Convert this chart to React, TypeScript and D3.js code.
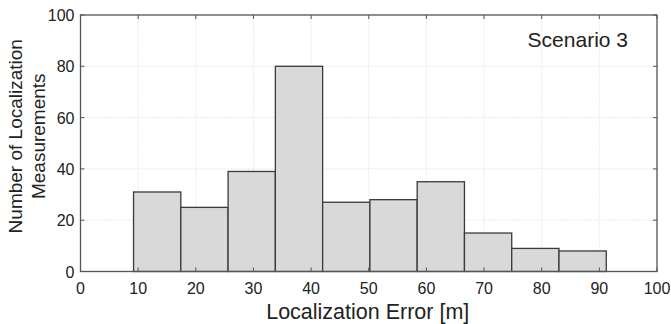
import React, { useEffect, useRef } from 'react'
import * as d3 from 'd3'

// histogram bins (left edge, width) and counts
const binStart = 9.2
const binWidth = 8.2
const counts = [31, 25, 39, 80, 27, 28, 35, 15, 9, 8]
const xTicks = [0, 10, 20, 30, 40, 50, 60, 70, 80, 90, 100]
const yTicks = [0, 20, 40, 60, 80, 100]
const xLabel = 'Localization Error [m]'
const yLabelLines = ['Number of Localization', 'Measurements']
const annotation = 'Scenario 3'

const W = 671, H = 324
const margin = { top: 15, right: 14, bottom: 52.5, left: 80.5 }
const font = 'Arial, "Liberation Sans", Helvetica, sans-serif'

export default function App() {
    const ref = useRef<SVGSVGElement>(null)

    useEffect(() => {
        const svg = d3.select(ref.current)
        svg.selectAll('*').remove()

        const x = d3.scaleLinear().domain([0, 100]).range([margin.left, W - margin.right])
        const y = d3.scaleLinear().domain([0, 100]).range([H - margin.bottom, margin.top])

        const bins = counts.map((c, i) => ({
            x0: binStart + i * binWidth,
            x1: binStart + (i + 1) * binWidth,
            count: c
        }))

        // dotted grid
        const grid = svg.append('g')
            .attr('stroke', '#d6d6d6')
            .attr('stroke-width', 1)
            .attr('stroke-dasharray', '1,2')
        grid.selectAll('line.gx')
            .data(xTicks.slice(1, -1))
            .join('line')
            .attr('x1', d => x(d)).attr('x2', d => x(d))
            .attr('y1', y(0)).attr('y2', y(100))
        grid.selectAll('line.gy')
            .data(yTicks.slice(1, -1))
            .join('line')
            .attr('class', 'gy')
            .attr('y1', d => y(d)).attr('y2', d => y(d))
            .attr('x1', x(0)).attr('x2', x(100))

        // bars
        svg.append('g')
            .selectAll('rect')
            .data(bins)
            .join('rect')
            .attr('x', d => x(d.x0))
            .attr('width', d => x(d.x1) - x(d.x0))
            .attr('y', d => y(d.count))
            .attr('height', d => y(0) - y(d.count))
            .attr('fill', '#d9d9d9')
            .attr('stroke', '#3a3a3a')
            .attr('stroke-width', 1.3)

        // inward ticks on all sides
        const tl = 4
        const ticks = svg.append('g').attr('stroke', '#555').attr('stroke-width', 1)
        xTicks.forEach(t => {
            ticks.append('line').attr('x1', x(t)).attr('x2', x(t)).attr('y1', y(0)).attr('y2', y(0) - tl)
            ticks.append('line').attr('x1', x(t)).attr('x2', x(t)).attr('y1', y(100)).attr('y2', y(100) + tl)
        })
        yTicks.forEach(t => {
            ticks.append('line').attr('y1', y(t)).attr('y2', y(t)).attr('x1', x(0)).attr('x2', x(0) + tl)
            ticks.append('line').attr('y1', y(t)).attr('y2', y(t)).attr('x1', x(100)).attr('x2', x(100) - tl)
        })

        // frame
        svg.append('rect')
            .attr('x', x(0)).attr('y', y(100))
            .attr('width', x(100) - x(0)).attr('height', y(0) - y(100))
            .attr('fill', 'none')
            .attr('stroke', '#555')
            .attr('stroke-width', 1.3)

        // tick labels
        svg.append('g')
            .attr('font-family', font)
            .attr('font-size', 16)
            .attr('fill', '#222')
            .attr('text-anchor', 'middle')
            .selectAll('text')
            .data(xTicks)
            .join('text')
            .attr('x', d => x(d))
            .attr('y', y(0) + 22)
            .text(d => d)

        svg.append('g')
            .attr('font-family', font)
            .attr('font-size', 16)
            .attr('fill', '#222')
            .attr('text-anchor', 'end')
            .selectAll('text')
            .data(yTicks)
            .join('text')
            .attr('x', x(0) - 6)
            .attr('y', d => y(d) + 6)
            .text(d => d)

        // axis labels
        svg.append('text')
            .attr('x', (x(0) + x(100)) / 2 - 1)
            .attr('y', H - 5)
            .attr('text-anchor', 'middle')
            .attr('font-family', font)
            .attr('font-size', 21.5)
            .attr('fill', '#222')
            .text(xLabel)

        const yl = svg.append('text')
            .attr('transform', `translate(0,${(y(0) + y(100)) / 2 - 7}) rotate(-90)`)
            .attr('text-anchor', 'middle')
            .attr('font-family', font)
            .attr('font-size', 19)
            .attr('fill', '#222')
        yLabelLines.forEach((l, i) => {
            yl.append('tspan').attr('x', 0).attr('y', 22 + i * 23).text(l)
        })

        svg.append('text')
            .attr('x', x(100) - 29)
            .attr('y', 47)
            .attr('text-anchor', 'end')
            .attr('font-family', font)
            .attr('font-size', 21)
            .attr('fill', '#222')
            .text(annotation)
    }, [])

    return (
        <svg ref={ref} width={W} height={H}
            style={{ position: 'absolute', left: 0, top: 0, background: '#fff' }} />
    )
}
